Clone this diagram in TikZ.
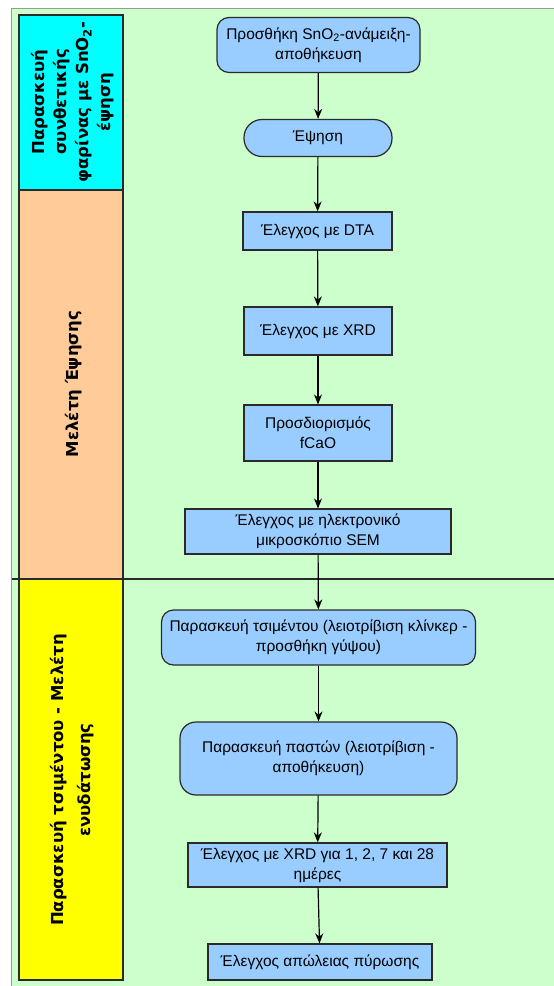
\documentclass[tikz,border=0pt]{standalone}
\usepackage{fontspec}
\setmainfont{Liberation Sans}
\newfontfamily\lanefont{DejaVu Sans}
\usetikzlibrary{arrows.meta}
\definecolor{bggreen}{HTML}{CCFFCC}
\definecolor{boxblue}{HTML}{99CCFF}
\definecolor{lanecyan}{HTML}{00FFFF}
\definecolor{laneorange}{HTML}{FFCC99}
\definecolor{laneyellow}{HTML}{FFFF00}
\definecolor{edgegray}{HTML}{2A2A2A}
\definecolor{framegray}{HTML}{8FA08F}

\begin{document}
\begin{tikzpicture}[x=1pt, y=-1pt,
  font=\fontsize{15.5}{20}\selectfont,
  arr/.style={-{Stealth[length=10pt, width=8pt]}, line width=1.2pt},
  procbox/.style={draw=edgegray, line width=1.2pt, fill=boxblue, align=center, inner sep=1pt},
  roundbox/.style={procbox, rounded corners=12pt},
  lane/.style={draw=edgegray, line width=1.2pt},
  lanetext/.style={rotate=90, align=center, font=\lanefont\fontsize{16.5}{22}\selectfont\bfseries}]
\useasboundingbox (0,0) rectangle (554,986);
% page and swimlane frame
\fill[white] (0,0) rectangle (554,986);
\fill[bggreen] (11,8) rectangle (554,986);
\draw[framegray, line width=1pt] (11.5,986) -- (11.5,8.5) -- (554,8.5);
% lanes on the left
\draw[lane, fill=lanecyan] (19,15) rectangle (123,190);
\draw[lane, fill=laneorange] (19,190) rectangle (123,579);
\draw[lane, fill=laneyellow] (19,579) rectangle (123,980);
\draw[edgegray, line width=1.2pt] (12,579) -- (554,579);
\node[lanetext] (lanemix) at (73,102) {Παρασκευή\\συνθετικής\\φαρίνας με SnO\textsubscript{2}-\\έψηση};
\node[lanetext] (laneburn) at (74,384) {Μελέτη Έψησης};
\node[lanetext, font=\lanefont\fontsize{16.5}{27}\selectfont\bfseries] (lanecem) at (72,780)
  {Παρασκευή τσιμέντου - Μελέτη\\ενυδάτωσης};
% process steps
\node[roundbox, minimum width=203pt, minimum height=55pt] (mix) at (318.5,45)
  {Προσθήκη SnO\textsubscript{2}-ανάμειξη-\\αποθήκευση};
\node[procbox, rounded corners=18pt, minimum width=148pt, minimum height=37pt] (burn) at (318,138) {Έψηση};
\node[procbox, minimum width=149pt, minimum height=38pt] (dta) at (317.5,231) {Έλεγχος με DTA};
\node[procbox, minimum width=148pt, minimum height=48pt] (xrd) at (318,331) {Έλεγχος με XRD};
\node[procbox, minimum width=148pt, minimum height=56pt] (fcao) at (318,433) {Προσδιορισμός\\fCaO};
\node[procbox, minimum width=266pt, minimum height=45pt] (sem) at (318,531.5)
  {Έλεγχος με ηλεκτρονικό\\μικροσκόπιο SEM};
\node[roundbox, minimum width=314pt, minimum height=55pt] (cement) at (318.5,637.5)
  {Παρασκευή τσιμέντου (λειοτρίβιση κλίνκερ -\\προσθήκη γύψου)};
\node[roundbox, rounded corners=16pt, minimum width=277pt, minimum height=73pt] (paste) at (318.5,758.5)
  {Παρασκευή παστών (λειοτρίβιση -\\αποθήκευση)};
\node[procbox, minimum width=259pt, minimum height=44pt] (xrddays) at (317.5,865)
  {Έλεγχος με XRD για 1, 2, 7 και 28\\ημέρες};
\node[procbox, minimum width=224pt, minimum height=36pt] (loi) at (320,962) {Έλεγχος απώλειας πύρωσης};
% flow
\draw[arr] (mix) -- (burn);
\draw[arr] (burn) -- (dta);
\draw[arr] (dta) -- (xrd);
\draw[arr] (xrd) -- (fcao);
\draw[arr] (fcao) -- (sem);
\draw[arr] (sem) -- (cement);
\draw[arr] (cement) -- (paste);
\draw[arr] (paste) -- (xrddays);
\draw[arr] (xrddays) -- (loi);
\end{tikzpicture}
\end{document}
